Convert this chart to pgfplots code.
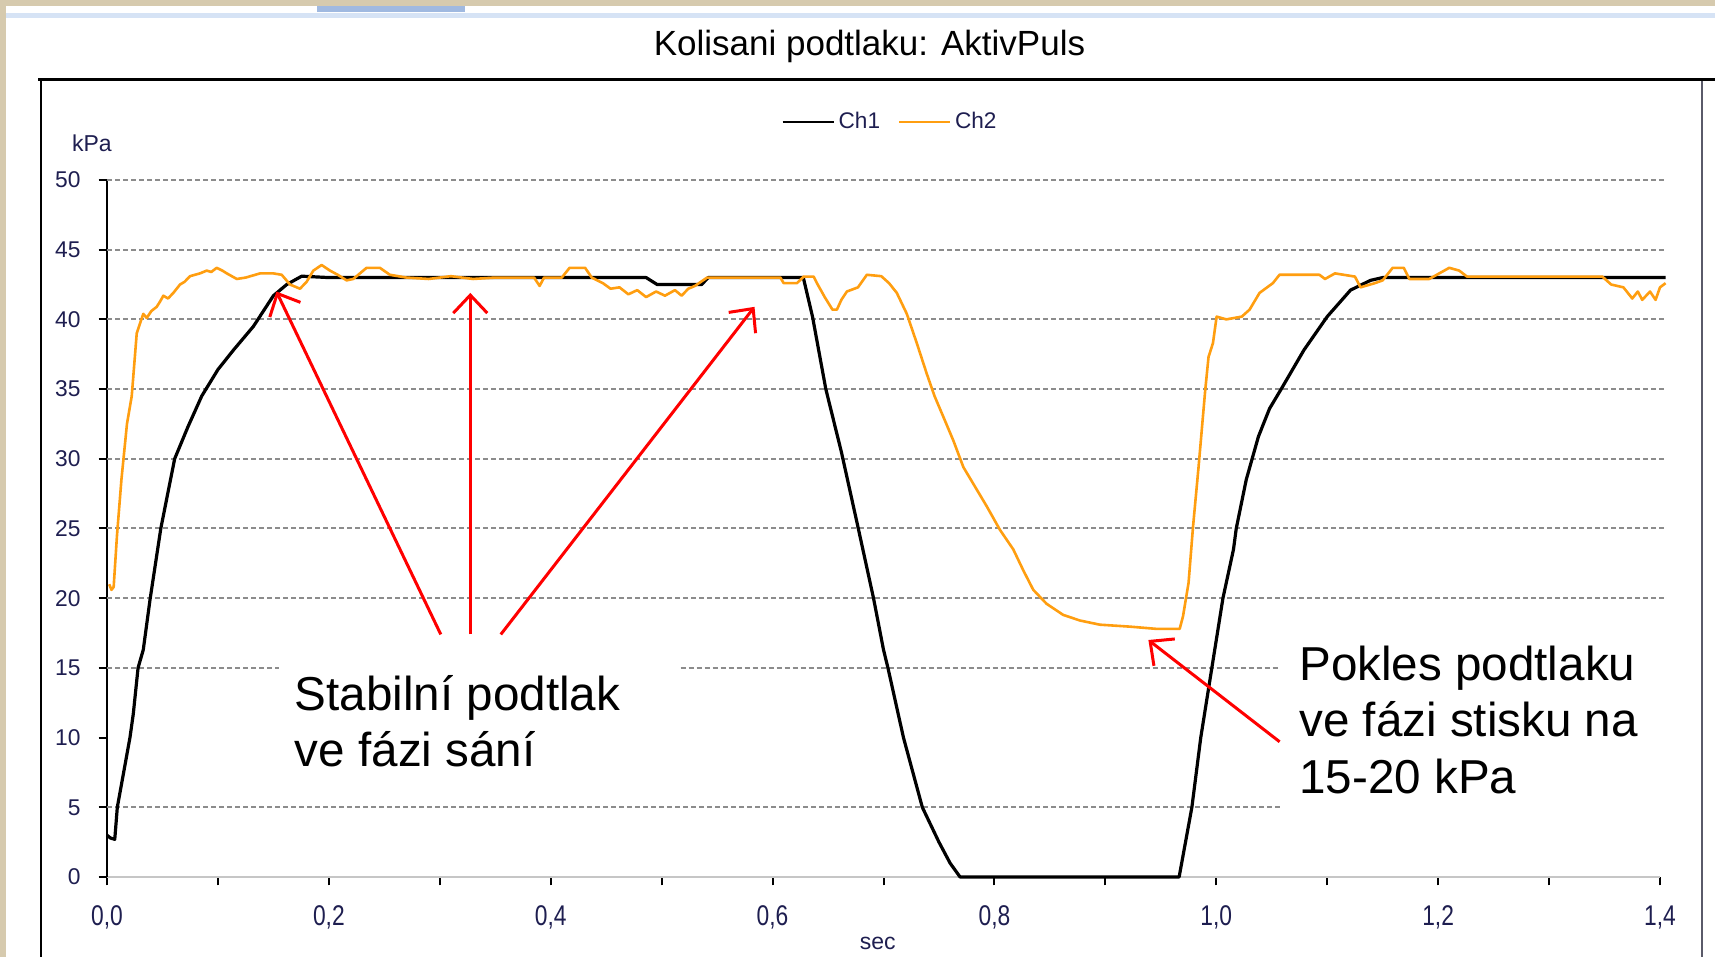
\documentclass[border=0pt]{standalone}
\usepackage{pgfplots}
\pgfplotsset{compat=1.18}
\usepackage{fontspec}
\setmainfont{Liberation Sans}
\usetikzlibrary{arrows.meta}
\definecolor{orangeline}{RGB}{255,158,16}
\definecolor{navytxt}{RGB}{30,30,80}
\definecolor{beige}{RGB}{214,202,174}
\definecolor{bluestrip}{RGB}{214,227,245}
\definecolor{bluetab}{RGB}{160,185,224}
\definecolor{gridgray}{RGB}{140,140,140}
\definecolor{rightframe}{RGB}{90,90,105}

\begin{document}
\begin{tikzpicture}
\useasboundingbox (0,0) rectangle (857.5pt,478.5pt);
\fill[white] (0,0) rectangle (857.5pt,478.5pt);
\fill[beige] (0,0) rectangle (3pt,478.5pt);
\fill[beige] (0,475.5pt) rectangle (857.5pt,478.5pt);
\fill[bluestrip] (3pt,469.3pt) rectangle (857.5pt,472.2pt);
\fill[bluetab] (158.5pt,472.5pt) rectangle (232.5pt,475.5pt);
\draw[black, line width=1.5pt] (19pt,438.5pt) -- (857.5pt,438.5pt);
\draw[black, line width=1pt] (20.35pt,438.5pt) -- (20.35pt,0);
\draw[rightframe, line width=1pt] (850.85pt,437.8pt) -- (850.85pt,0);
\node[anchor=base, font=\fontsize{17.5}{20}\selectfont, inner sep=0pt] at (434.75pt,450.5pt) {Kolisani podtlaku: AktivPuls};
\node[anchor=base west, font=\fontsize{11.5}{13}\selectfont, text=navytxt, inner sep=0pt] at (35.85pt,402.65pt) {kPa};
\node[anchor=base, font=\fontsize{11.5}{13}\selectfont, text=navytxt, inner sep=0pt] at (438.9pt,3.5pt) {sec};

\begin{axis}[
  at={(53.5pt,40pt)}, anchor=south west,
  scale only axis, width=776.5pt, height=348.5pt,
  xmin=0, xmax=1.4, ymin=0, ymax=50,
  clip=false,
  axis x line*=bottom, axis y line*=left,
  axis line style={-},
  x axis line style={draw=gray!45, line width=1pt},
  y axis line style={draw=black, line width=1pt},
  tick align=outside,
  major tick length=4.2pt, minor tick length=4.2pt,
  tick style={black, line width=1pt},
  xtick={0,0.2,0.4,0.6,0.8,1.0,1.2,1.4},
  minor xtick={0.1,0.3,0.5,0.7,0.9,1.1,1.3},
  xticklabels={{\scalebox{1}[1.25]{0,0}},{\scalebox{1}[1.25]{0,2}},{\scalebox{1}[1.25]{0,4}},{\scalebox{1}[1.25]{0,6}},{\scalebox{1}[1.25]{0,8}},{\scalebox{1}[1.25]{1,0}},{\scalebox{1}[1.25]{1,2}},{\scalebox{1}[1.25]{1,4}}},
  ytick={0,5,...,50},
  /pgf/number format/assume math mode=true,
  ticklabel style={font=\fontsize{11.4}{13}\selectfont, text=navytxt},
  xticklabel style={yshift=-6.5pt},
  yticklabel style={xshift=-5.5pt},
  legend columns=2,
  legend style={at={(axis description cs:0.4344,1.0836)}, anchor=west, draw=none, fill=none,
    inner sep=0pt, outer sep=0pt, font=\fontsize{11.3}{13}\selectfont, text=navytxt,
    /tikz/every even column/.append style={column sep=7pt}},
  legend image code/.code={\draw[#1, line width=1pt] (0pt,0pt) -- (25.5pt,0pt);},
]
\pgfplotsinvokeforeach{20,25,...,50}{
  \draw[gridgray, line width=1pt, dash pattern=on 2.5pt off 1.5pt] (axis cs:0,#1) -- (axis cs:1.404,#1);
}
\draw[gridgray, line width=1pt, dash pattern=on 2.5pt off 1.5pt] (axis cs:0,15) -- (axis cs:0.155,15);
\draw[gridgray, line width=1pt, dash pattern=on 2.5pt off 1.5pt] (axis cs:0.517,15) -- (axis cs:1.057,15);
\draw[gridgray, line width=1pt, dash pattern=on 2.5pt off 1.5pt] (axis cs:0,5) -- (axis cs:1.057,5);

\addplot[black, line width=1.6pt, line join=round] coordinates {
(0.000,3.0)(0.003,2.8)(0.007,2.7)(0.0093,5.0)(0.0207,10.0)(0.0237,11.7)(0.028,15.0)(0.0327,16.3)(0.0388,19.9)
(0.0485,25.0)(0.061,30.0)(0.073,32.3)(0.0854,34.5)(0.100,36.4)(0.114,37.8)(0.132,39.5)(0.150,41.7)(0.162,42.5)
(0.1755,43.1)(0.20,43.0)(0.30,43.0)(0.40,43.0)(0.486,43.0)(0.496,42.5)(0.536,42.5)(0.542,43.0)(0.6277,43.0)
(0.636,40.2)(0.648,35.0)(0.662,30.5)(0.677,25.1)(0.691,20.0)(0.700,16.3)(0.704,15.0)(0.718,10.0)(0.735,5.0)
(0.750,2.5)(0.760,1.0)(0.769,0)(0.9665,0)(0.978,5.0)(0.986,10.0)(0.996,15.0)(1.006,20.0)(1.0155,23.5)(1.018,25.0)
(1.027,28.5)(1.038,31.6)(1.048,33.6)(1.0585,35.0)(1.079,37.8)(1.100,40.2)(1.121,42.1)(1.139,42.8)(1.150,43.0)(1.405,43.0)
};
\addlegendentry{Ch1}
\addplot[orangeline, line width=1.3pt, line join=round] coordinates {
(0.002,21.0)(0.004,20.6)(0.006,20.8)(0.009,24.5)(0.013,28.5)(0.018,32.5)(0.0223,34.5)(0.0268,39.0)(0.0327,40.4)
(0.0358,40.1)(0.040,40.6)(0.0448,40.9)(0.048,41.3)(0.0508,41.7)(0.055,41.5)(0.0598,41.9)(0.0658,42.5)(0.070,42.7)
(0.0748,43.1)(0.0838,43.3)(0.0899,43.5)(0.094,43.4)(0.0989,43.7)(0.104,43.5)(0.108,43.3)(0.117,42.9)(0.125,43.0)
(0.138,43.3)(0.150,43.3)(0.1575,43.2)(0.165,42.5)(0.174,42.2)(0.180,42.7)(0.186,43.5)(0.1935,43.9)(0.201,43.5)
(0.208,43.2)(0.216,42.8)(0.222,42.9)(0.234,43.7)(0.246,43.7)(0.255,43.2)(0.27,43.0)(0.29,42.9)(0.31,43.1)
(0.33,42.9)(0.35,43.0)(0.37,43.0)(0.385,43.0)(0.390,42.4)(0.394,43.0)(0.410,43.0)(0.417,43.7)(0.431,43.7)
(0.437,43.0)(0.447,42.6)(0.454,42.2)(0.462,42.3)(0.470,41.8)(0.478,42.1)(0.486,41.6)(0.495,42.0)(0.503,41.7)
(0.512,42.1)(0.518,41.7)(0.524,42.2)(0.530,42.4)(0.541,43.0)(0.56,43.0)(0.58,43.0)(0.607,43.0)(0.610,42.6)
(0.622,42.6)(0.628,43.07)(0.637,43.07)(0.640,42.6)(0.647,41.6)(0.654,40.7)(0.658,40.7)(0.662,41.4)(0.667,42.0)
(0.677,42.3)(0.685,43.2)(0.698,43.1)(0.705,42.6)(0.712,41.9)(0.721,40.4)(0.730,38.3)(0.739,36.1)(0.746,34.5)
(0.754,33.0)(0.763,31.3)(0.772,29.4)(0.781,28.2)(0.793,26.6)(0.805,24.9)(0.817,23.5)(0.826,22.0)(0.835,20.6)
(0.847,19.6)(0.862,18.8)(0.877,18.4)(0.895,18.1)(0.922,17.96)(0.946,17.8)(0.967,17.8)(0.970,18.7)(0.975,21.1)
(0.979,25.1)(0.984,29.4)(0.990,34.9)(0.993,37.3)(0.997,38.3)(1.0003,40.2)(1.009,40.0)(1.023,40.2)(1.030,40.7)
(1.039,41.9)(1.051,42.6)(1.057,43.2)(1.075,43.2)(1.093,43.2)(1.098,42.9)(1.107,43.3)(1.125,43.07)(1.130,42.3)
(1.143,42.6)(1.150,42.8)(1.159,43.7)(1.169,43.7)(1.174,42.9)(1.192,42.9)(1.210,43.7)(1.219,43.5)(1.226,43.07)
(1.348,43.07)(1.356,42.5)(1.367,42.3)(1.375,41.5)(1.380,42.0)(1.384,41.4)(1.391,42.0)(1.396,41.4)(1.400,42.3)
(1.405,42.6)
};
\addlegendentry{Ch2}

\draw[red, line width=1.5pt, -{Straight Barb[length=9pt,width=17pt]}] (axis cs:0.3009,17.4) -- (axis cs:0.1527,42.0);
\draw[red, line width=1.5pt, -{Straight Barb[length=9pt,width=17pt]}] (axis cs:0.3275,17.4) -- (axis cs:0.3275,41.9);
\draw[red, line width=1.5pt, -{Straight Barb[length=9pt,width=17pt]}] (axis cs:0.355,17.4) -- (axis cs:0.5837,40.9);
\draw[red, line width=1.5pt, -{Straight Barb[length=9pt,width=17pt]}] (axis cs:1.0571,9.7) -- (axis cs:0.9388,17.0);

\node[anchor=base west, inner sep=0pt, font=\fontsize{23.8}{28}\selectfont] at (axis cs:0.169,11.91) {Stabilní podtlak};
\node[anchor=base west, inner sep=0pt, font=\fontsize{23.8}{28}\selectfont] at (axis cs:0.169,7.91) {ve fázi sání};
\node[anchor=base west, inner sep=0pt, font=\fontsize{23.8}{28}\selectfont] at (axis cs:1.0745,14.13) {Pokles podtlaku};
\node[anchor=base west, inner sep=0pt, font=\fontsize{23.8}{28}\selectfont] at (axis cs:1.0745,10.06) {ve fázi stisku na};
\node[anchor=base west, inner sep=0pt, font=\fontsize{23.8}{28}\selectfont] at (axis cs:1.0745,6.01) {15-20 kPa};
\end{axis}
\end{tikzpicture}
\end{document}
